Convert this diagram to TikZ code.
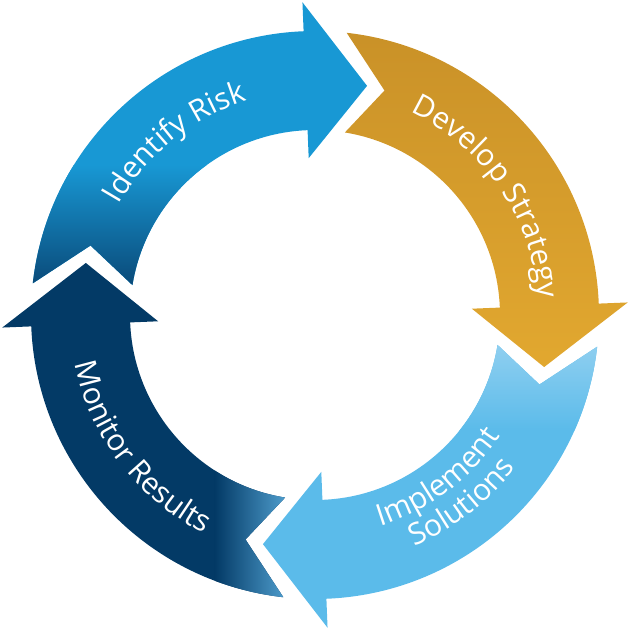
\documentclass[tikz,border=0pt]{standalone}
\usepackage{fontspec}
\setmainfont{Open Sans}
\usetikzlibrary{decorations.text}
\definecolor{riskblue}{HTML}{1898D4}
\definecolor{riskdark}{HTML}{0A4A79}
\definecolor{stratA}{HTML}{C78F27}
\definecolor{stratB}{HTML}{E3A930}
\definecolor{implA}{HTML}{8FCFF0}
\definecolor{implB}{HTML}{5BBBEA}
\definecolor{monA}{HTML}{033A66}
\definecolor{monB}{HTML}{52A2D2}
\newcommand{\lblfont}{\fontsize{30}{32}\selectfont}
% arrow of the cycle; #1 = frame angle (head at #1+2.3, tip at #1-12.8)
\def\cycarrow#1{(#1+83.6:284pt) arc[start angle=#1+83.6, end angle=#1+2.3, radius=284pt]
 -- (#1+2.3:313pt) -- (#1-12.8:235pt) -- (#1+2.3:157pt) -- (#1+2.3:185pt)
 arc[start angle=#1+2.3, end angle=#1+80.7, radius=185pt]
 -- (#1+72.8:235pt) -- cycle}
\tikzset{
  curvedlabel/.style={decorate, decoration={text along path, text align=center,
    text color=white, text={|\lblfont|#1}}}
}
\begin{document}
\begin{tikzpicture}
\useasboundingbox (-315pt,-315pt) rectangle (315pt,315pt);
% Identify Risk (top)
\begin{scope}
  \clip \cycarrow{90};
  \fill[riskblue] (-330pt,-330pt) rectangle (330pt,330pt);
  \shade[top color=riskblue, bottom color=riskdark] (-330pt,30pt) rectangle (20pt,150pt);
  \fill[riskdark] (-330pt,-40pt) rectangle (20pt,30pt);
\end{scope}
% Develop Strategy (right)
\begin{scope}
  \clip \cycarrow{0};
  \shade[top color=stratA, bottom color=stratB] (-20pt,-70pt) rectangle (330pt,320pt);
\end{scope}
% Implement Solutions (bottom)
\begin{scope}
  \clip \cycarrow{270};
  \fill[implB] (-330pt,-330pt) rectangle (330pt,330pt);
  \shade[top color=implA, bottom color=implB] (-20pt,-115pt) rectangle (330pt,-30pt);
  \fill[implA] (-20pt,-30pt) rectangle (330pt,20pt);
\end{scope}
% Monitor Results (left)
\begin{scope}
  \clip \cycarrow{180};
  \fill[monA] (-330pt,-330pt) rectangle (330pt,330pt);
  \shade[left color=monA, right color=monB] (-100pt,-330pt) rectangle (-25pt,20pt);
  \fill[monB] (-25pt,-330pt) rectangle (20pt,20pt);
\end{scope}
% labels along the ring
\path[curvedlabel={Identify Risk}] (169:225pt) arc[start angle=169, end angle=89, radius=225pt];
\path[curvedlabel={Develop Strategy}] (80:224pt) arc[start angle=80, end angle=-11, radius=224pt];
\path[curvedlabel={Monitor Results}] (177:245pt) arc[start angle=177, end angle=257.6, radius=245pt];
\path[curvedlabel={Implement}] (-93:221pt) arc[start angle=-93, end angle=-13, radius=221pt];
\path[curvedlabel={Solutions}] (-92:252pt) arc[start angle=-92, end angle=-12, radius=252pt];
\end{tikzpicture}
\end{document}
